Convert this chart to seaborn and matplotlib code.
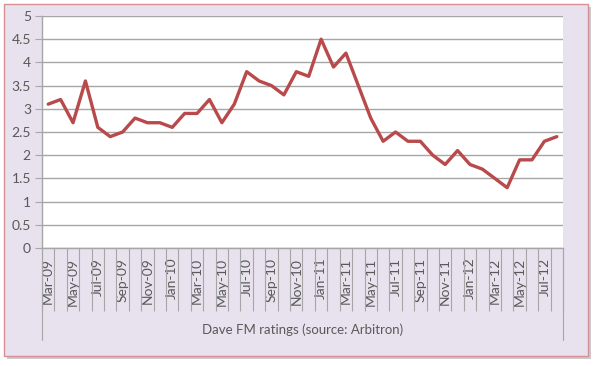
import matplotlib
matplotlib.use("Agg")
import matplotlib.pyplot as plt
from matplotlib.patches import Rectangle
from matplotlib.lines import Line2D
import seaborn as sns
import pandas as pd
import numpy as np

months = ["Mar-09","Apr-09","May-09","Jun-09","Jul-09","Aug-09","Sep-09","Oct-09","Nov-09","Dec-09",
          "Jan-10","Feb-10","Mar-10","Apr-10","May-10","Jun-10","Jul-10","Aug-10","Sep-10","Oct-10","Nov-10","Dec-10",
          "Jan-11","Feb-11","Mar-11","Apr-11","May-11","Jun-11","Jul-11","Aug-11","Sep-11","Oct-11","Nov-11","Dec-11",
          "Jan-12","Feb-12","Mar-12","Apr-12","May-12","Jun-12","Jul-12","Aug-12"]
ratings = [3.1, 3.2, 2.7, 3.6, 2.6, 2.4, 2.5, 2.8, 2.7, 2.7,
           2.6, 2.9, 2.9, 3.2, 2.7, 3.1, 3.8, 3.6, 3.5, 3.3, 3.8, 3.7,
           4.5, 3.9, 4.2, 3.5, 2.8, 2.3, 2.5, 2.3, 2.3, 2.0, 1.8, 2.1,
           1.8, 1.7, 1.5, 1.3, 1.9, 1.9, 2.3, 2.4]
y_ticks = [0, 0.5, 1, 1.5, 2, 2.5, 3, 3.5, 4, 4.5, 5]
y_tick_labels = ["0", "0.5", "1", "1.5", "2", "2.5", "3", "3.5", "4", "4.5", "5"]
x_title = "Dave FM ratings (source: Arbitron)"

sns.set_theme(style="white")
plt.rcParams["font.family"] = ["Lato", "DejaVu Sans"]

W, H = 600, 366
fig = plt.figure(figsize=(6, 3.66), dpi=100)
fig.patch.set_facecolor("white")

# frame with shadow
fig.patches.append(Rectangle((7/W, (H-359)/H), 584/W, 352/H, transform=fig.transFigure,
                             facecolor="#cdc9d1", edgecolor="none", zorder=-3))
fig.patches.append(Rectangle((4/W, (H-356)/H), 584/W, 352/H, transform=fig.transFigure,
                             facecolor="#e7e2ee", edgecolor="#d68f92", linewidth=1.0, zorder=-2))

ax = fig.add_axes([42/W, (H-248)/H, (563-42)/W, (248-16)/H])
ax.set_facecolor("white")

df = pd.DataFrame({"month": months, "rating": ratings, "idx": np.arange(len(months))})
sns.lineplot(data=df, x="idx", y="rating", ax=ax, color="#b94a4c", linewidth=2.4, sort=False)

n = len(months)
ax.set_xlim(-0.5, n - 0.5)
ax.set_ylim(0, 5)
ax.set_yticks(y_ticks)
ax.set_yticklabels(y_tick_labels)
ax.yaxis.grid(True, color="#a6a6a6", linewidth=1.0)
ax.xaxis.grid(False)

ax.set_xticks(np.arange(0, n, 2))
ax.set_xticklabels(months[::2], rotation=90)
ax.set_xticks(np.arange(-0.5, n, 1), minor=True)
ax.tick_params(axis="x", which="major", length=0, pad=7, labelsize=10, labelcolor="#595959")
ax.tick_params(axis="x", which="minor", length=45, width=0.8, color="#a6a6a6", direction="out", bottom=True)
ax.tick_params(axis="y", which="major", length=5, width=0.8, color="#a6a6a6", left=True,
               labelsize=10, labelcolor="#595959", pad=3)

for side in ["top", "right"]:
    ax.spines[side].set_visible(False)
for side in ["left", "bottom"]:
    ax.spines[side].set_color("#a6a6a6")
    ax.spines[side].set_linewidth(1.0)

# outer separators extending to the bottom
for xv in [-0.5, n - 0.5]:
    ax.add_line(Line2D([xv, xv], [0, -(340-248)/(248-16)*5], color="#a6a6a6", linewidth=0.8,
                       clip_on=False))

ax.set_xlabel("")
ax.set_ylabel("")
fig.text((42+563)/2/W, (H-330)/H, x_title, ha="center", va="center", fontsize=9.5, color="#595959")

fig.savefig("out.png", dpi=100)
